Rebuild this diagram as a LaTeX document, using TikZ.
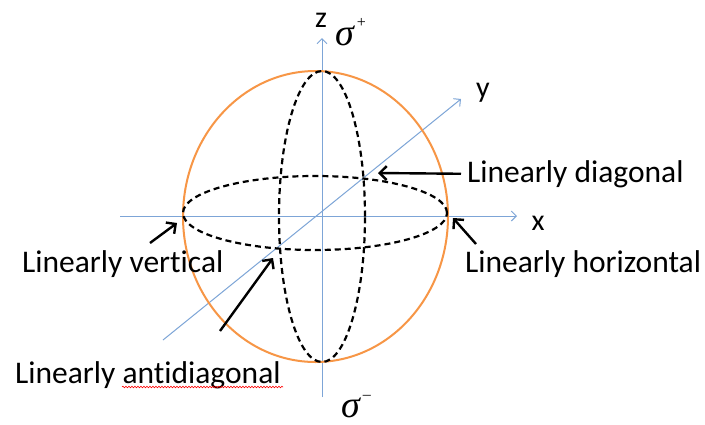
\documentclass[tikz,border=0pt]{standalone}
\usepackage{fontspec}
\setmainfont[Ligatures=NoCommon]{Carlito}
\newfontfamily\sigfont{Liberation Serif}
\usetikzlibrary{arrows.meta,decorations.pathmorphing}
\definecolor{axisblue}{RGB}{125,165,215}
\definecolor{sphereorange}{RGB}{247,150,70}
\newcommand\supsign[1]{\raisebox{18pt}{\fontsize{16}{16}\selectfont\sigfont\upshape #1}}
\begin{document}
\begin{tikzpicture}[x=1pt,y=-1pt,
  axis/.style={draw=axisblue, line width=1pt, -{Straight Barb[length=5pt,width=10pt]}},
  pointer/.style={draw=black, line width=2.4pt, -{Straight Barb[length=7pt,width=14pt]}},
  dashring/.style={draw=black, line width=2.2pt, dash pattern=on 6pt off 4pt},
  lbl/.style={font=\fontsize{31.5}{32}\selectfont, inner sep=0pt, anchor=base west},
  axlbl/.style={font=\fontsize{30}{30}\selectfont, inner sep=0pt, anchor=base},
  sig/.style={font=\fontsize{38}{38}\selectfont\sigfont\itshape, inner sep=0pt, anchor=base west},
  ]
\useasboundingbox[fill=white] (0,0) rectangle (705,424);
% axes
\coordinate (xs) at (120,216); \coordinate (xe) at (517,216);
\coordinate (zs) at (322,397); \coordinate (ze) at (322,38);
\coordinate (ys) at (163,340); \coordinate (ye) at (461,99);
\draw[axis] (xs) -- (xe);
\draw[axis] (zs) -- (ze);
\draw[axis] (ys) -- (ye);
% sphere and rings
\draw[sphereorange, line width=2pt] (315.5,216.5) ellipse [x radius=132.5pt, y radius=145.5pt];
\draw[dashring] (315,213) ellipse [x radius=132pt, y radius=37pt];
\draw[dashring] (322,216.5) ellipse [x radius=43pt, y radius=145.5pt];
% axis labels
\node[axlbl] (zl) at (321,27) {z};
\node[axlbl] (xl) at (538,230) {x};
\node[axlbl] (yl) at (483,97) {y};
\node[sig] (sp) at (335,45) {σ\hspace{3pt}\supsign{+}};
\node[sig] (sm) at (341,417) {σ\hspace{3pt}\supsign{–}};
% labels
\node[lbl] (ldiag) at (467,182) {Linearly diagonal};
\node[lbl] (lhor) at (465,272) {Linearly horizontal};
\node[lbl] (lver) at (22,272) {Linearly vertical};
\node[lbl] (lanti) at (15,383) {Linearly antidiagonal};
% pointer arrows
\coordinate (tD) at (378,173);
\coordinate (tH) at (453,218); \coordinate (sH) at (476,244);
\coordinate (tV) at (177,223); \coordinate (sV) at (150,243);
\coordinate (tA) at (273,258); \coordinate (sA) at (220,331);
\draw[pointer] (ldiag.west) ++(-6,0) coordinate (sD) (sD) -- (tD);
\draw[pointer] (sH) -- (tH);
\draw[pointer] (sV) -- (tV);
\draw[pointer] (sA) -- (tA);
% spell-check underline
\coordinate (u1) at (122,387); \coordinate (u2) at (283,387);
\draw[red, line width=0.6pt, decorate, decoration={snake, amplitude=0.8pt, segment length=3pt}] (u1) -- (u2);
\end{tikzpicture}
\end{document}
